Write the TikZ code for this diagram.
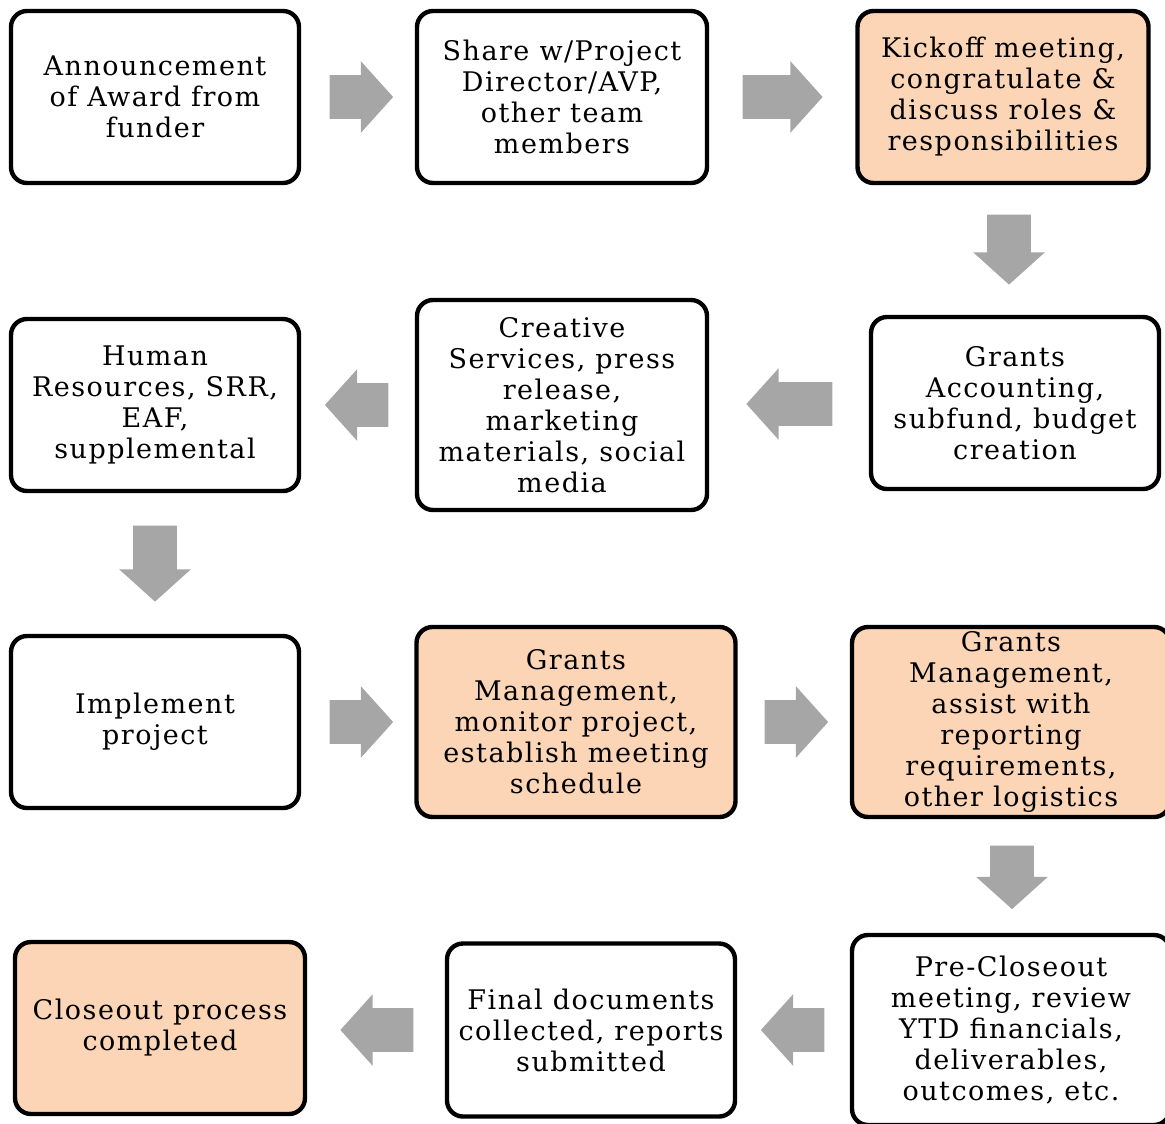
\documentclass[tikz,border=0pt]{standalone}
\usepackage{fontspec}
\setmainfont{DejaVu Serif}[LetterSpace=5.5]
\usetikzlibrary{shapes.arrows}
\definecolor{peach}{HTML}{FBD5B5}
\definecolor{arrowgray}{HTML}{A6A6A6}

\begin{document}
\begin{tikzpicture}[x=0.5pt,y=-0.5pt]

        % Styles:
        \tikzstyle{stage}=[draw, line width=2.2pt, rounded corners=8pt, fill=white,
        align=center, inner sep=0pt, minimum width=144pt, minimum height=86pt,
        font=\fontsize{13.5pt}{15.5pt}\selectfont]
        \tikzstyle{hot}=[stage, fill=peach]
        \tikzstyle{flow}=[single arrow, fill=arrowgray, draw=none, inner sep=10.75pt,
        minimum width=35.5pt, single arrow head extend=7pt, single arrow tip angle=96,
        anchor=tail]

        \newcommand{\stagebox}[3]{node (s#1) [stage,#3] {#2}}
        \newcommand{\flowarrow}[3]{node (f#1) [flow,minimum height=#2,shape border rotate=#3] {}}

        \useasboundingbox (0,0) rectangle (1165,1123);
        \clip (0,0) rectangle (1165,1123);

        % Boxes:
        \path (155,97) \stagebox{1}{Announcement\\ of Award from\\ funder}{};
        \path (s1.center)+(407,0) \stagebox{2}{Share w/Project\\ Director/AVP,\\ other team\\ members}{minimum width=145pt};
        \path (s2.center)+(441,0) \stagebox{3}{Kickoff meeting,\\ congratulate \&\\ discuss roles \&\\ responsibilities}{hot,minimum width=145.5pt};

        \path (s3.center)+(12,306) \stagebox{4}{Grants\\ Accounting,\\ subfund, budget\\ creation}{};
        \path (s4.center)+(-453,2) \stagebox{5}{Creative\\ Services, press\\ release,\\ marketing\\ materials, social\\ media}{minimum width=145pt,minimum height=105pt};
        \path (s5.center)+(-407,0) \stagebox{6}{Human\\ Resources, SRR,\\ EAF,\\ supplemental}{};

        \path (s6.center)+(0,317) \stagebox{7}{Implement\\ project}{};
        \path (s7.center)+(421,0) \stagebox{8}{Grants\\ Management,\\ monitor project,\\ establish meeting\\ schedule}{hot,minimum width=159.5pt,minimum height=95pt};
        \path (s8.center)+(435,0) \stagebox{9}{Grants\\ Management,\\ assist with\\ reporting\\ requirements,\\ other logistics}{hot,minimum width=159pt,minimum height=95pt};

        \path (s9.center)+(0,308) \stagebox{10}{Pre-Closeout\\ meeting, review\\ YTD financials,\\ deliverables,\\ outcomes, etc.}{minimum width=159pt,minimum height=95pt};
        \path (s10.center)+(-420,0) \stagebox{11}{Final documents\\ collected, reports\\ submitted}{minimum height=86.5pt};
        \path (s11.center)+(-431,-2) \stagebox{12}{Closeout process\\ completed}{hot,minimum width=145pt};

        % Arrows:
        \path (s1.east)+(28,0) \flowarrow{1}{30pt}{0};
        \path (s2.east)+(33,0) \flowarrow{2}{40pt}{0};
        \path (s3.south)+(6,29) \flowarrow{3}{35pt}{270};
        \path (s4.west)+(-36,1) \flowarrow{4}{43pt}{180};
        \path (s5.west)+(-26,0) \flowarrow{5}{30.5pt}{180};
        \path (s6.south)+(0,32) \flowarrow{6}{38pt}{270};
        \path (s7.east)+(28,0) \flowarrow{7}{30.5pt}{0};
        \path (s8.east)+(26.5,0) \flowarrow{8}{30.5pt}{0};
        \path (s9.south)+(1,26) \flowarrow{9}{31pt}{270};
        \path (s10.west)+(-25,0) \flowarrow{10}{30pt}{180};
        \path (s11.west)+(-31,0) \flowarrow{11}{36.5pt}{180};
\end{tikzpicture}
\end{document}
